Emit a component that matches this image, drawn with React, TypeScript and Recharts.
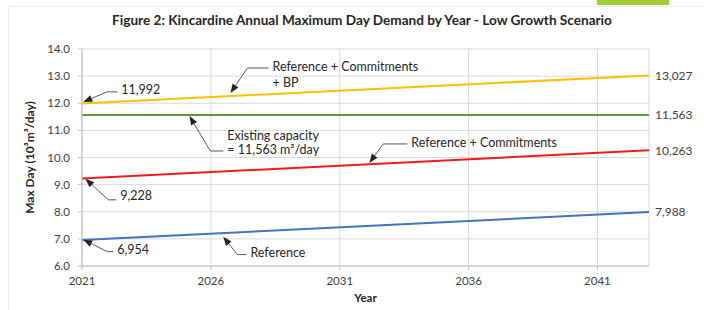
import React from 'react';
import { LineChart, Line, XAxis, YAxis, CartesianGrid, ReferenceLine } from 'recharts';

// endpoints of each projection (10^3 m3/day)
const years = [2021, 2043];
const reference = [6.954, 7.988];
const refCommitments = [9.228, 10.263];
const refCommitmentsBP = [11.992, 13.027];
const existingCapacity = [11.563, 11.563];

const xTicks = [2021, 2026, 2031, 2036, 2041];
const yTicks = [6, 7, 8, 9, 10, 11, 12, 13, 14];

const data = years.map((year, i) => ({
  year,
  reference: reference[i],
  refCommitments: refCommitments[i],
  refCommitmentsBP: refCommitmentsBP[i],
  existingCapacity: existingCapacity[i],
}));

const FONT = 'Lato, "Open Sans", sans-serif';
const TEXT = '#404040';

// callouts: elbow -> tip in data units, stub/text offsets in px
const callouts = [
  { tip: [2021.05, 12.05], elbow: [2021.98, 12.42], stub: 10, lines: ['11,992'], dy: [-2] },
  { tip: [2021.13, 9.22], elbow: [2022.02, 8.44], stub: 8, lines: ['9,228'], dy: [-4] },
  { tip: [2021.05, 6.97], elbow: [2021.98, 6.53], stub: 6, lines: ['6,954'], dy: [-1.5] },
  { tip: [2026.48, 7.08], elbow: [2027.03, 6.42], stub: 9, lines: ['Reference'], dy: [-2] },
  { tip: [2032.15, 9.8], elbow: [2032.69, 10.5], stub: 24, lines: ['Reference + Commitments'], dy: [-1] },
  { tip: [2025.17, 11.53], elbow: [2025.98, 10.24], stub: 13, lines: ['Existing capacity', '= 11,563 m³/day'], dy: [-15, -1] },
  { tip: [2026.76, 12.38], elbow: [2027.42, 13.3], stub: 21, lines: ['Reference + Commitments', '+ BP'], dy: [-1, 15] },
];

const Callout = (props: any) => {
  const { x1, y1, x2, y2, c } = props;
  if (x1 == null) return null;
  const dx = x2 - x1;
  const dy = y2 - y1;
  const len = Math.sqrt(dx * dx + dy * dy) || 1;
  const ux = dx / len;
  const uy = dy / len;
  const ah = 9;
  const aw = 3.5;
  const bx = x2 - ux * ah;
  const by = y2 - uy * ah;
  const pts = `${x2},${y2} ${bx - uy * aw},${by + ux * aw} ${bx + uy * aw},${by - ux * aw}`;
  const tx = x1 + c.stub + 4;
  return (
    <g>
      <line x1={x1} y1={y1} x2={x1 + c.stub} y2={y1} stroke="#595959" strokeWidth={1} />
      <line x1={x1} y1={y1} x2={bx} y2={by} stroke="#595959" strokeWidth={1} />
      <polygon points={pts} fill="#262626" />
      {c.lines.map((t: string, i: number) => (
        <text key={i} x={tx} y={y1 + c.dy[i]} dy="0.35em" fontSize={12.5} fontFamily={FONT} fill="#262626">
          {t}
        </text>
      ))}
    </g>
  );
};

const renderEnd = (props: any) => {
  const { x, y, value, index } = props;
  if (index !== years.length - 1) return null;
  return (
    <text x={x + 6} y={y} dy="0.35em" fontSize={12} fontFamily={FONT} fill={TEXT}>
      {Math.round(value * 1000).toLocaleString('en-US')}
    </text>
  );
};

export default function App() {
  return (
    <div style={{ position: 'absolute', left: 0, top: 0, width: 704, height: 310, background: '#fff', overflow: 'hidden' }}>
      <div style={{ position: 'absolute', left: 597, top: 0, width: 72, height: 5, background: '#9fcc37' }} />
      <div style={{ position: 'absolute', left: 8, top: 6, width: 696, height: 1, background: '#eeeeee' }} />
      <div style={{ position: 'absolute', left: 8, top: 6, width: 1, height: 304, background: '#eeeeee' }} />
      <div
        style={{
          position: 'absolute',
          left: 10,
          top: 11,
          width: 704,
          textAlign: 'center',
          fontFamily: FONT,
          fontWeight: 700,
          fontSize: 13.6,
          lineHeight: '18px',
          color: '#262626',
        }}
      >
        Figure 2: Kincardine Annual Maximum Day Demand by Year - Low Growth Scenario
      </div>
      <LineChart width={704} height={310} data={data} margin={{ top: 49, right: 55, bottom: 14, left: 22 }}>
        <CartesianGrid stroke="#d9d9d9" />
        <XAxis
          dataKey="year"
          type="number"
          domain={[2021, 2043]}
          ticks={xTicks}
          height={30}
          stroke="#bfbfbf"
          tickSize={4}
          tickMargin={7}
          tick={{ fill: TEXT, fontSize: 11.5, fontFamily: FONT }}
          label={{
            content: ({ viewBox }: any) => (
              <text x={viewBox.x + viewBox.width / 2} y={viewBox.y + 32} dy="0.35em" textAnchor="middle" fontSize={11.5} fontWeight={700} fontFamily={FONT} fill="#262626">
                Year
              </text>
            ),
          }}
        />
        <YAxis
          type="number"
          domain={[6, 14]}
          ticks={yTicks}
          width={60}
          stroke="#bfbfbf"
          tickSize={4}
          tickMargin={8}
          tickFormatter={(v: number) => v.toFixed(1)}
          tick={{ fill: TEXT, fontSize: 11.5, fontFamily: FONT }}
          label={{
            content: ({ viewBox }: any) => {
              const cx = viewBox.x + 8;
              const cy = viewBox.y + viewBox.height / 2;
              return (
                <text x={cx} y={cy} dy="0.35em" textAnchor="middle" transform={`rotate(-90 ${cx} ${cy})`} fontSize={12} fontWeight={700} fontFamily={FONT} fill="#262626">
                  Max Day (10³m³/day)
                </text>
              );
            },
          }}
        />
        <Line dataKey="existingCapacity" stroke="#5b9b34" strokeWidth={2} dot={false} isAnimationActive={false} label={renderEnd} />
        <Line dataKey="reference" stroke="#4472c4" strokeWidth={2} dot={false} isAnimationActive={false} label={renderEnd} />
        <Line dataKey="refCommitments" stroke="#f01c1c" strokeWidth={2} dot={false} isAnimationActive={false} label={renderEnd} />
        <Line dataKey="refCommitmentsBP" stroke="#ffc000" strokeWidth={2} dot={false} isAnimationActive={false} label={renderEnd} />
        {callouts.map((c, i) => (
          <ReferenceLine
            key={i}
            segment={[
              { x: c.elbow[0], y: c.elbow[1] },
              { x: c.tip[0], y: c.tip[1] },
            ]}
            ifOverflow="visible"
            shape={(p: any) => <Callout {...p} c={c} />}
          />
        ))}
      </LineChart>
    </div>
  );
}
